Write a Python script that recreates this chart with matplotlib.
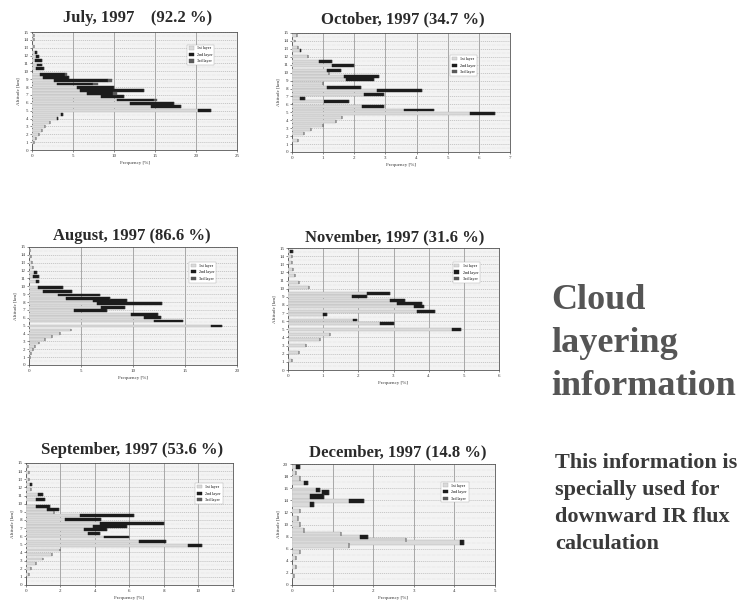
import matplotlib
matplotlib.use("Agg")
import matplotlib.pyplot as plt
import numpy as np

plt.rcParams['font.family'] = ['Liberation Serif', 'DejaVu Serif']

# ---- monthly cloud-layer frequency data (altitude in km, frequency in %) ----
months = ["July", "October", "August", "November", "September", "December"]
cloud_pct = [92.2, 34.7, 86.6, 31.6, 53.6, 14.8]
layer_names = ["1st layer", "2nd layer", "3rd layer"]

alt_jul = [14.6, 14.0, 13.2, 12.4, 11.9, 11.4, 10.8, 10.4, 9.6, 9.2, 8.8, 8.4, 7.95, 7.6,
           7.2, 6.8, 6.35, 5.9, 5.5, 5.0, 4.5, 4.0, 3.5, 3.0, 2.5, 2.0, 1.5, 1.0]
l1_jul = [0.2, 0.3, 0.3, 0.4, 0.5, 0.4, 0.6, 0.5, 1.0, 1.4, 2.7, 3.1, 5.5, 5.9,
          6.7, 8.4, 10.4, 12.0, 14.5, 20.2, 3.5, 3.0, 2.2, 1.6, 1.2, 0.8, 0.5, 0.3]
l2_jul = [0, 0, 0, 0.2, 0.4, 0.8, 0.6, 1.0, 3.0, 3.1, 6.6, 4.3, 4.5, 7.8,
          3.2, 2.8, 4.5, 5.3, 3.7, 1.6, 0.3, 0.2, 0, 0, 0, 0, 0, 0]
l3_jul = [0, 0, 0, 0, 0, 0, 0, 0, 0.3, 0, 0.5, 0.6, 0, 0,
          0.5, 0, 0.4, 0, 0, 0, 0, 0, 0, 0, 0, 0, 0, 0]

alt_oct = [14.7, 14.0, 13.2, 12.8, 12.0, 11.45, 10.9, 10.3, 9.9, 9.5, 9.1, 8.6, 8.1,
           7.7, 7.25, 6.7, 6.4, 5.75, 5.3, 4.8, 4.3, 3.8, 3.3, 2.8, 2.3, 1.5]
l1_oct = [0.15, 0.1, 0.2, 0.25, 0.5, 0.86, 1.29, 1.13, 1.2, 1.66, 1.72, 1.0, 1.13,
          2.73, 2.3, 0.27, 1.02, 2.25, 3.6, 5.73, 1.6, 1.4, 1.0, 0.6, 0.4, 0.2]
l2_oct = [0, 0, 0, 0.05, 0, 0.43, 0.7, 0.43, 0, 1.13, 0.9, 0, 1.07,
          1.45, 0.64, 0.16, 0.8, 0.7, 0.96, 0.8, 0, 0, 0, 0, 0, 0]
l3_oct = [0] * len(alt_oct)

alt_aug = [14.6, 13.8, 13.0, 12.4, 11.8, 11.25, 10.6, 9.8, 9.35, 8.9, 8.5, 8.15, 7.8, 7.35,
           6.9, 6.45, 6.0, 5.6, 4.95, 4.45, 4.0, 3.6, 3.2, 2.8, 2.4, 2.0, 1.5, 1.0]
l1_aug = [0.1, 0.2, 0.3, 0.4, 0.5, 0.4, 0.7, 0.87, 1.36, 2.8, 3.6, 6.2, 6.5, 6.9,
          4.3, 9.8, 11.1, 12.0, 17.5, 4.0, 3.0, 2.2, 1.5, 1.0, 0.6, 0.4, 0.2, 0.1]
l2_aug = [0, 0, 0, 0, 0.3, 0.6, 0.3, 2.4, 2.75, 4.0, 4.2, 3.2, 6.3, 2.3,
          3.2, 2.6, 1.6, 2.8, 1.1, 0, 0, 0, 0, 0, 0, 0, 0, 0]
l3_aug = [0] * len(alt_aug)

alt_nov = [14.6, 14.0, 13.2, 12.4, 11.6, 10.8, 10.2, 9.45, 9.0, 8.5, 8.2, 7.8, 7.2, 6.8,
           6.15, 5.75, 5.0, 4.4, 3.8, 3.0, 2.2, 1.2]
l1_nov = [0.05, 0.1, 0.1, 0.15, 0.2, 0.3, 0.6, 2.24, 1.81, 2.9, 3.1, 3.57, 3.67, 1.0,
          1.86, 2.62, 4.67, 1.2, 0.9, 0.5, 0.3, 0.1]
l2_nov = [0.1, 0, 0, 0, 0, 0, 0, 0.67, 0.43, 0.43, 0.71, 0.29, 0.52, 0.1,
          0.1, 0.38, 0.24, 0, 0, 0, 0, 0]
l3_nov = [0] * len(alt_nov)

alt_sep = [14.6, 13.8, 13.0, 12.3, 11.7, 11.1, 10.5, 9.7, 9.3, 8.9, 8.5, 8.1, 7.6, 7.2,
           6.8, 6.3, 5.9, 5.3, 4.8, 4.3, 3.8, 3.2, 2.6, 2.0, 1.3]
l1_sep = [0.1, 0.15, 0.2, 0.25, 0.3, 0.7, 0.6, 0.6, 1.2, 1.6, 3.15, 2.28, 4.3, 3.9,
          3.35, 3.6, 4.5, 6.55, 9.4, 2.0, 1.5, 1.0, 0.6, 0.3, 0.2]
l2_sep = [0, 0, 0, 0.1, 0, 0.3, 0.5, 0.8, 0.7, 0, 3.1, 2.05, 3.7, 1.95,
          1.36, 0.7, 1.5, 1.55, 0.8, 0, 0, 0, 0, 0, 0]
l3_sep = [0] * len(alt_sep)

alt_dec = [19.5, 18.5, 17.6, 16.85, 15.75, 15.3, 14.65, 13.9, 13.3, 12.2, 11.0, 10.0, 9.0,
           8.4, 7.9, 7.4, 7.0, 6.5, 5.5, 4.5, 3.0, 1.5]
l1_dec = [0.1, 0.1, 0.2, 0.3, 0.6, 0.74, 0.45, 1.4, 0.45, 0.2, 0.15, 0.2, 0.3,
          1.2, 1.68, 2.8, 4.14, 1.4, 0.2, 0.1, 0.1, 0.05]
l2_dec = [0.1, 0, 0, 0.1, 0.1, 0.16, 0.33, 0.37, 0.1, 0, 0, 0, 0,
          0, 0.2, 0, 0.1, 0, 0, 0, 0, 0]
l3_dec = [0] * len(alt_dec)

x_max = [25, 7, 20, 6, 12, 5]
x_step = [5, 1, 5, 1, 2, 1]
y_max = [15, 15, 15, 15, 15, 20]
y_step = [1, 1, 1, 1, 1, 2]

panel_data = [
    (alt_jul, l1_jul, l2_jul, l3_jul),
    (alt_oct, l1_oct, l2_oct, l3_oct),
    (alt_aug, l1_aug, l2_aug, l3_aug),
    (alt_nov, l1_nov, l2_nov, l3_nov),
    (alt_sep, l1_sep, l2_sep, l3_sep),
    (alt_dec, l1_dec, l2_dec, l3_dec),
]

# panel boxes in pixels: left, top, right, bottom
boxes = [(32, 32, 237, 150), (292, 33, 510, 152),
         (29, 247, 237, 365), (288, 248, 499, 370),
         (26, 463, 233, 585), (292, 464, 495, 585)]
title_pos = [(138, 18), (403, 19), (132, 236), (395, 237), (132, 450), (398, 452)]
title_gap = ["    ", " ", " ", " ", " ", " "]
legend_anchor = [(0.90, 0.91), (0.86, 0.83), (0.91, 0.89), (0.92, 0.90), (0.96, 0.85), (0.88, 0.87)]

W, H = 744, 606
fig = plt.figure(figsize=(W / 100, H / 100), dpi=100)
fig.patch.set_facecolor("white")

colors = ["#dadada", "#1c1c1c", "#5a5a5a"]

for i, (box, data) in enumerate(zip(boxes, panel_data)):
    l, t, r, b = box
    ax = fig.add_axes([l / W, 1 - b / H, (r - l) / W, (b - t) / H])
    ax.set_facecolor("#f3f3f3")
    alt, s1, s2, s3 = (np.array(v, dtype=float) for v in data)
    h = 0.36 * y_step[i]
    ax.barh(alt, s1, height=h, color=colors[0], edgecolor="#b0b0b0", linewidth=0.3,
            label=layer_names[0], zorder=3)
    ax.barh(alt, s2, left=s1, height=h, color=colors[1], edgecolor="#1c1c1c", linewidth=0.3,
            label=layer_names[1], zorder=3)
    ax.barh(alt, s3, left=s1 + s2, height=h, color=colors[2], edgecolor="#5a5a5a", linewidth=0.3,
            label=layer_names[2], zorder=3)
    ax.set_xlim(0, x_max[i])
    ax.set_ylim(0, y_max[i])
    ax.set_xticks(np.arange(0, x_max[i] + 1, x_step[i]))
    ax.set_yticks(np.arange(0, y_max[i] + 1, y_step[i]))
    ax.set_yticks(np.arange(0, y_max[i], y_step[i] / 2.0), minor=True)
    ax.grid(axis="x", color="#8a8a8a", linewidth=0.5, zorder=1)
    ax.grid(axis="y", which="major", color="#a8a8a8", linewidth=0.4, linestyle=(0, (2, 1.5)), zorder=1)
    ax.grid(axis="y", which="minor", color="#c4c4c4", linewidth=0.3, linestyle=(0, (1, 2)), zorder=1)
    ax.tick_params(axis="both", labelsize=3.6, length=1.2, width=0.4, pad=1.5, colors="#333333")
    ax.tick_params(axis="y", which="minor", length=0)
    for sp in ax.spines.values():
        sp.set_linewidth(0.6)
        sp.set_color("#555555")
    ax.set_xlabel("Frequency [%]", fontsize=3.6, labelpad=2, color="#333333")
    ax.set_ylabel("Altitude [km]", fontsize=3.6, labelpad=2, color="#333333")
    leg = ax.legend(loc="upper right", bbox_to_anchor=legend_anchor[i], fontsize=3.0,
                    frameon=True, fancybox=False, edgecolor="#aaaaaa", framealpha=1,
                    handlelength=1.2, handleheight=0.8, borderpad=0.4, labelspacing=0.6)
    leg.get_frame().set_linewidth(0.3)
    leg.set_zorder(5)
    tx, ty = title_pos[i]
    fig.text(tx / W, 1 - ty / H, f"{months[i]}, 1997{title_gap[i]}({cloud_pct[i]} %)",
             ha="center", va="center", fontsize=12, fontweight="bold", color="#2a2a2a")

# side notes
for k, line in enumerate(["Cloud", "layering", "information"]):
    fig.text(551 / W, 1 - (309 + 43 * k) / H, line, ha="left", va="baseline",
             fontsize=26, fontweight="bold", color="#555555")
for k, line in enumerate(["This information is", "specially used for",
                          "downward IR flux", "calculation"]):
    fig.text(555 / W, 1 - (468 + 27 * k) / H, line, ha="left", va="baseline",
             fontsize=16, fontweight="bold", color="#3a3a3a")

fig.savefig("out.png", dpi=100, facecolor="white")
